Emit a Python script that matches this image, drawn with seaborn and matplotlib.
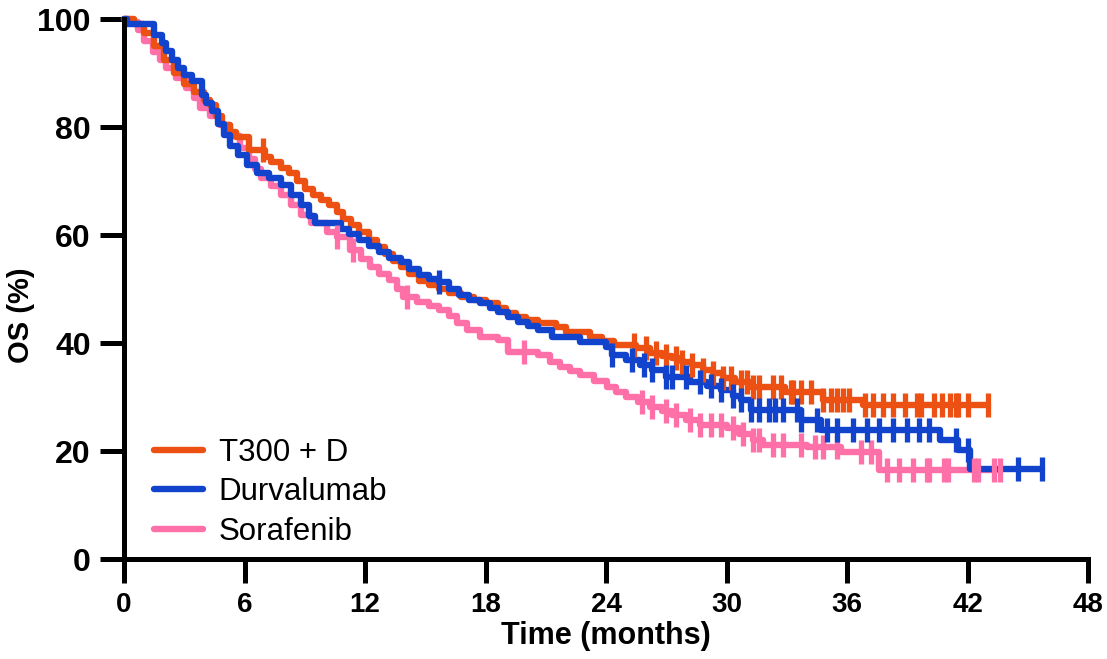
import numpy as np
import pandas as pd
import seaborn as sns
import matplotlib.pyplot as plt

# step curves: (time in months, OS %)
t300_time = [0, 0.5, 1.0, 1.5, 2.0, 2.5, 3.0, 3.5, 4.0, 4.3, 4.6, 4.9, 5.3, 5.6, 6.2, 7.0, 7.3,
             7.8, 8.2, 8.6, 9.0, 9.4, 9.8, 10.2, 10.6, 10.9, 11.3, 11.7, 12.2, 12.6, 13.0, 13.4,
             13.8, 14.2, 14.7, 15.2, 15.7, 16.2, 16.8, 17.4, 18.0, 18.6, 19.0, 19.5, 20.0, 20.6,
             21.5, 22.0, 23.2, 23.8, 24.4, 25.5, 26.2, 26.8, 27.3, 27.8, 28.3, 28.8, 29.3, 29.8,
             30.4, 31.2, 32.9, 34.8, 36.8, 43.0]
t300_os = [100, 99, 97.5, 95, 92.5, 90, 88, 86.5, 85, 84, 82, 80.4, 79, 78.1, 75.7, 74.5, 73.5,
           72.5, 71.5, 70, 68.5, 67.5, 66.5, 65.5, 64.3, 63, 61.9, 60.5, 59, 57.8, 56.5, 55.2,
           54, 52.8, 51.5, 50.7, 50, 49.3, 48.5, 48, 47.5, 46.5, 45.5, 44.8, 44.3, 43.7,
           43, 42, 41.1, 40.3, 39.6, 39, 38.1, 37.6, 37.2, 36.5, 35.9, 35, 34.4, 33.6,
           32.8, 31.9, 30.9, 29.4, 28.5, 28.5]
t300_cens = [6.9, 25.4, 26.0, 26.5, 27.0, 27.5, 27.8, 28.3, 28.8, 29.3, 29.8, 30.2, 30.7, 31.0,
             31.3, 31.6, 32.3, 32.7, 33.2, 33.3, 33.7, 34.2, 34.8, 35.2, 35.5, 35.8, 36.1, 36.9,
             37.3, 37.8, 38.3, 38.9, 39.5, 39.7, 40.3, 40.7, 41.1, 41.4, 41.5, 42.0, 43.0]

durva_time = [0, 0.15, 1.5, 1.9, 2.1, 2.4, 2.7, 3.0, 3.4, 3.9, 4.1, 4.4, 4.7, 5.0, 5.3, 5.7, 6.1,
              6.6, 7.2, 7.8, 8.3, 8.8, 9.2, 9.5, 10.8, 11.2, 11.7, 12.2, 12.7, 13.2, 13.8, 14.2,
              14.7, 15.2, 15.7, 16.2, 16.7, 17.2, 17.7, 18.2, 18.6, 19.1, 19.6, 20.1, 20.6, 21.3,
              22.7, 24.0, 24.3, 25.0, 25.7, 26.3, 27.0, 28.2, 29.0, 29.7, 30.3, 30.7, 31.2, 33.7,
              34.7, 40.6, 41.5, 42.1, 45.7]
durva_os = [100, 99, 97, 95.5, 94, 92.5, 91, 89.6, 88.5, 86, 84.5, 83, 80.5, 78.5, 76.5, 74.8, 73,
            71.5, 70.5, 69.3, 67.5, 65.5, 63.5, 62.2, 61.2, 60.2, 59, 58, 56.8, 55.8, 55, 53.8,
            52.6, 51.8, 51.3, 50, 48.9, 48, 47.4, 46.5, 45.7, 44.8, 43.9, 43.2, 42.5, 41.1,
            40.2, 39.3, 37.8, 36.8, 35.9, 35, 33.7, 32.8, 32, 31.3, 30.2, 29.4, 27.6, 25.7,
            23.9, 22, 20.2, 16.7, 16.7]
durva_cens = [15.7, 24.3, 25.3, 25.9, 26.3, 27.0, 27.3, 28.0, 28.7, 29.2, 29.7, 30.3, 30.7, 31.2,
              31.6, 32.1, 32.4, 32.8, 33.5, 33.7, 34.5, 35.0, 35.5, 36.3, 37.0, 37.6, 38.3, 39.0,
              39.6, 40.1, 41.4, 42.0, 44.5, 45.7]

sora_time = [0, 0.3, 0.7, 1.0, 1.45, 1.8, 2.1, 2.6, 3.1, 3.5, 3.8, 4.3, 4.8, 5.3, 5.8, 6.2, 6.5,
             6.8, 7.3, 7.8, 8.3, 8.8, 9.3, 10.1, 10.6, 11.25, 11.8, 12.25, 12.7, 13.2, 13.6, 13.9,
             14.6, 15.2, 15.7, 16.2, 16.6, 17.1, 17.7, 18.6, 19.1, 20.6, 21.2, 21.7, 22.2, 22.7,
             23.4, 24.05, 24.5, 25.0, 25.6, 26.2, 26.8, 27.3, 28.0, 28.7, 30.0, 30.6, 31.3, 31.8,
             34.0, 35.7, 37.6, 43.6]
sora_os = [100, 99.4, 98, 96, 93.9, 92.4, 90.9, 89, 87.2, 85.3, 83.5, 82, 80.4, 78.3, 76.1, 74, 72.3,
           70.6, 69, 67.4, 65.6, 63.7, 62.2, 60.6, 59.6, 57.2, 55.6, 54, 52.8, 51.7, 50, 48.5,
           47.6, 46.8, 46.1, 45, 43.7, 42.4, 41.1, 40.6, 38.3, 37.8, 36.5, 35.6, 34.8, 34.1,
           33, 31.9, 31, 30, 29, 28.1, 27.4, 26.7, 25.8, 24.8, 24.3, 23.2, 22, 21.1,
           20.7, 19.8, 16.5, 16.5]
sora_cens = [10.6, 11.4, 14.1, 19.9, 25.8, 26.3, 27.0, 27.5, 28.2, 28.7, 29.2, 29.7, 30.3, 30.8,
             31.3, 31.6, 32.3, 32.8, 33.7, 34.4, 34.8, 35.5, 36.7, 37.2, 38.0, 38.6, 39.3, 40.0,
             40.1, 40.8, 41.0, 42.3, 42.5, 43.3, 43.6]

arms = ["T300 + D", "Durvalumab", "Sorafenib"]
colors = {"T300 + D": "#EC5012", "Durvalumab": "#1143CC", "Sorafenib": "#FF6FA8"}
layer = {"T300 + D": 2.1, "Durvalumab": 2.2, "Sorafenib": 2.0}
curves = {"T300 + D": (t300_time, t300_os, t300_cens),
          "Durvalumab": (durva_time, durva_os, durva_cens),
          "Sorafenib": (sora_time, sora_os, sora_cens)}

sns.set_theme(style="ticks")
plt.rcParams["font.family"] = ["Liberation Sans", "DejaVu Sans"]
plt.rcParams["text.color"] = "black"
plt.rcParams["axes.labelcolor"] = "black"
plt.rcParams["xtick.color"] = "black"
plt.rcParams["ytick.color"] = "black"

fig = plt.figure(figsize=(11.07, 6.59), dpi=100)
ax = fig.add_axes([0.112, 0.1517, 0.871, 0.8194])

lw = 4.6
for arm in arms:
    t, s, c = curves[arm]
    df = pd.DataFrame({"time": t, "os": s})
    sns.lineplot(data=df, x="time", y="os", ax=ax, color=colors[arm], lw=lw,
                 drawstyle="steps-post", estimator=None, sort=False, label=arm,
                 zorder=layer[arm], clip_on=False)

# censor ticks sit on the step value at their time
for arm in arms:
    t, s, c = curves[arm]
    idx = np.searchsorted(np.array(t), np.array(c), side="right") - 1
    cdf = pd.DataFrame({"time": c, "os": np.array(s)[idx]})
    sns.scatterplot(data=cdf, x="time", y="os", ax=ax, marker="|", s=290,
                    color=colors[arm], linewidth=3.8, zorder=layer[arm] + 1, clip_on=False)

ax.set_xlim(0, 48)
ax.set_ylim(0, 100)
ax.set_xticks(range(0, 49, 6))
ax.set_yticks(range(0, 101, 20))
sns.despine(ax=ax)
for sp in ["left", "bottom"]:
    ax.spines[sp].set_linewidth(3.6)
    ax.spines[sp].set_color("black")
    ax.spines[sp].set_zorder(5)
ax.tick_params(axis="both", length=17, width=3.6, color="black", direction="out")
ax.tick_params(axis="y", pad=7)
ax.tick_params(axis="x", pad=7)
for lab in ax.get_yticklabels():
    lab.set_fontsize(23)
    lab.set_fontweight("bold")
for lab in ax.get_xticklabels():
    lab.set_fontsize(20)
    lab.set_fontweight("bold")

ax.set_xlabel("Time (months)", fontsize=22, fontweight="bold", labelpad=2)
ax.set_ylabel("OS (%)", fontsize=21, fontweight="bold")
ax.yaxis.set_label_coords(-0.092, 0.452)

ax.legend(loc="lower left", bbox_to_anchor=(0.018, 0.0), borderaxespad=0, frameon=False,
          fontsize=22.5, handlelength=1.58, handletextpad=0.5, labelspacing=0.3)

fig.savefig("out.png", dpi=100)
